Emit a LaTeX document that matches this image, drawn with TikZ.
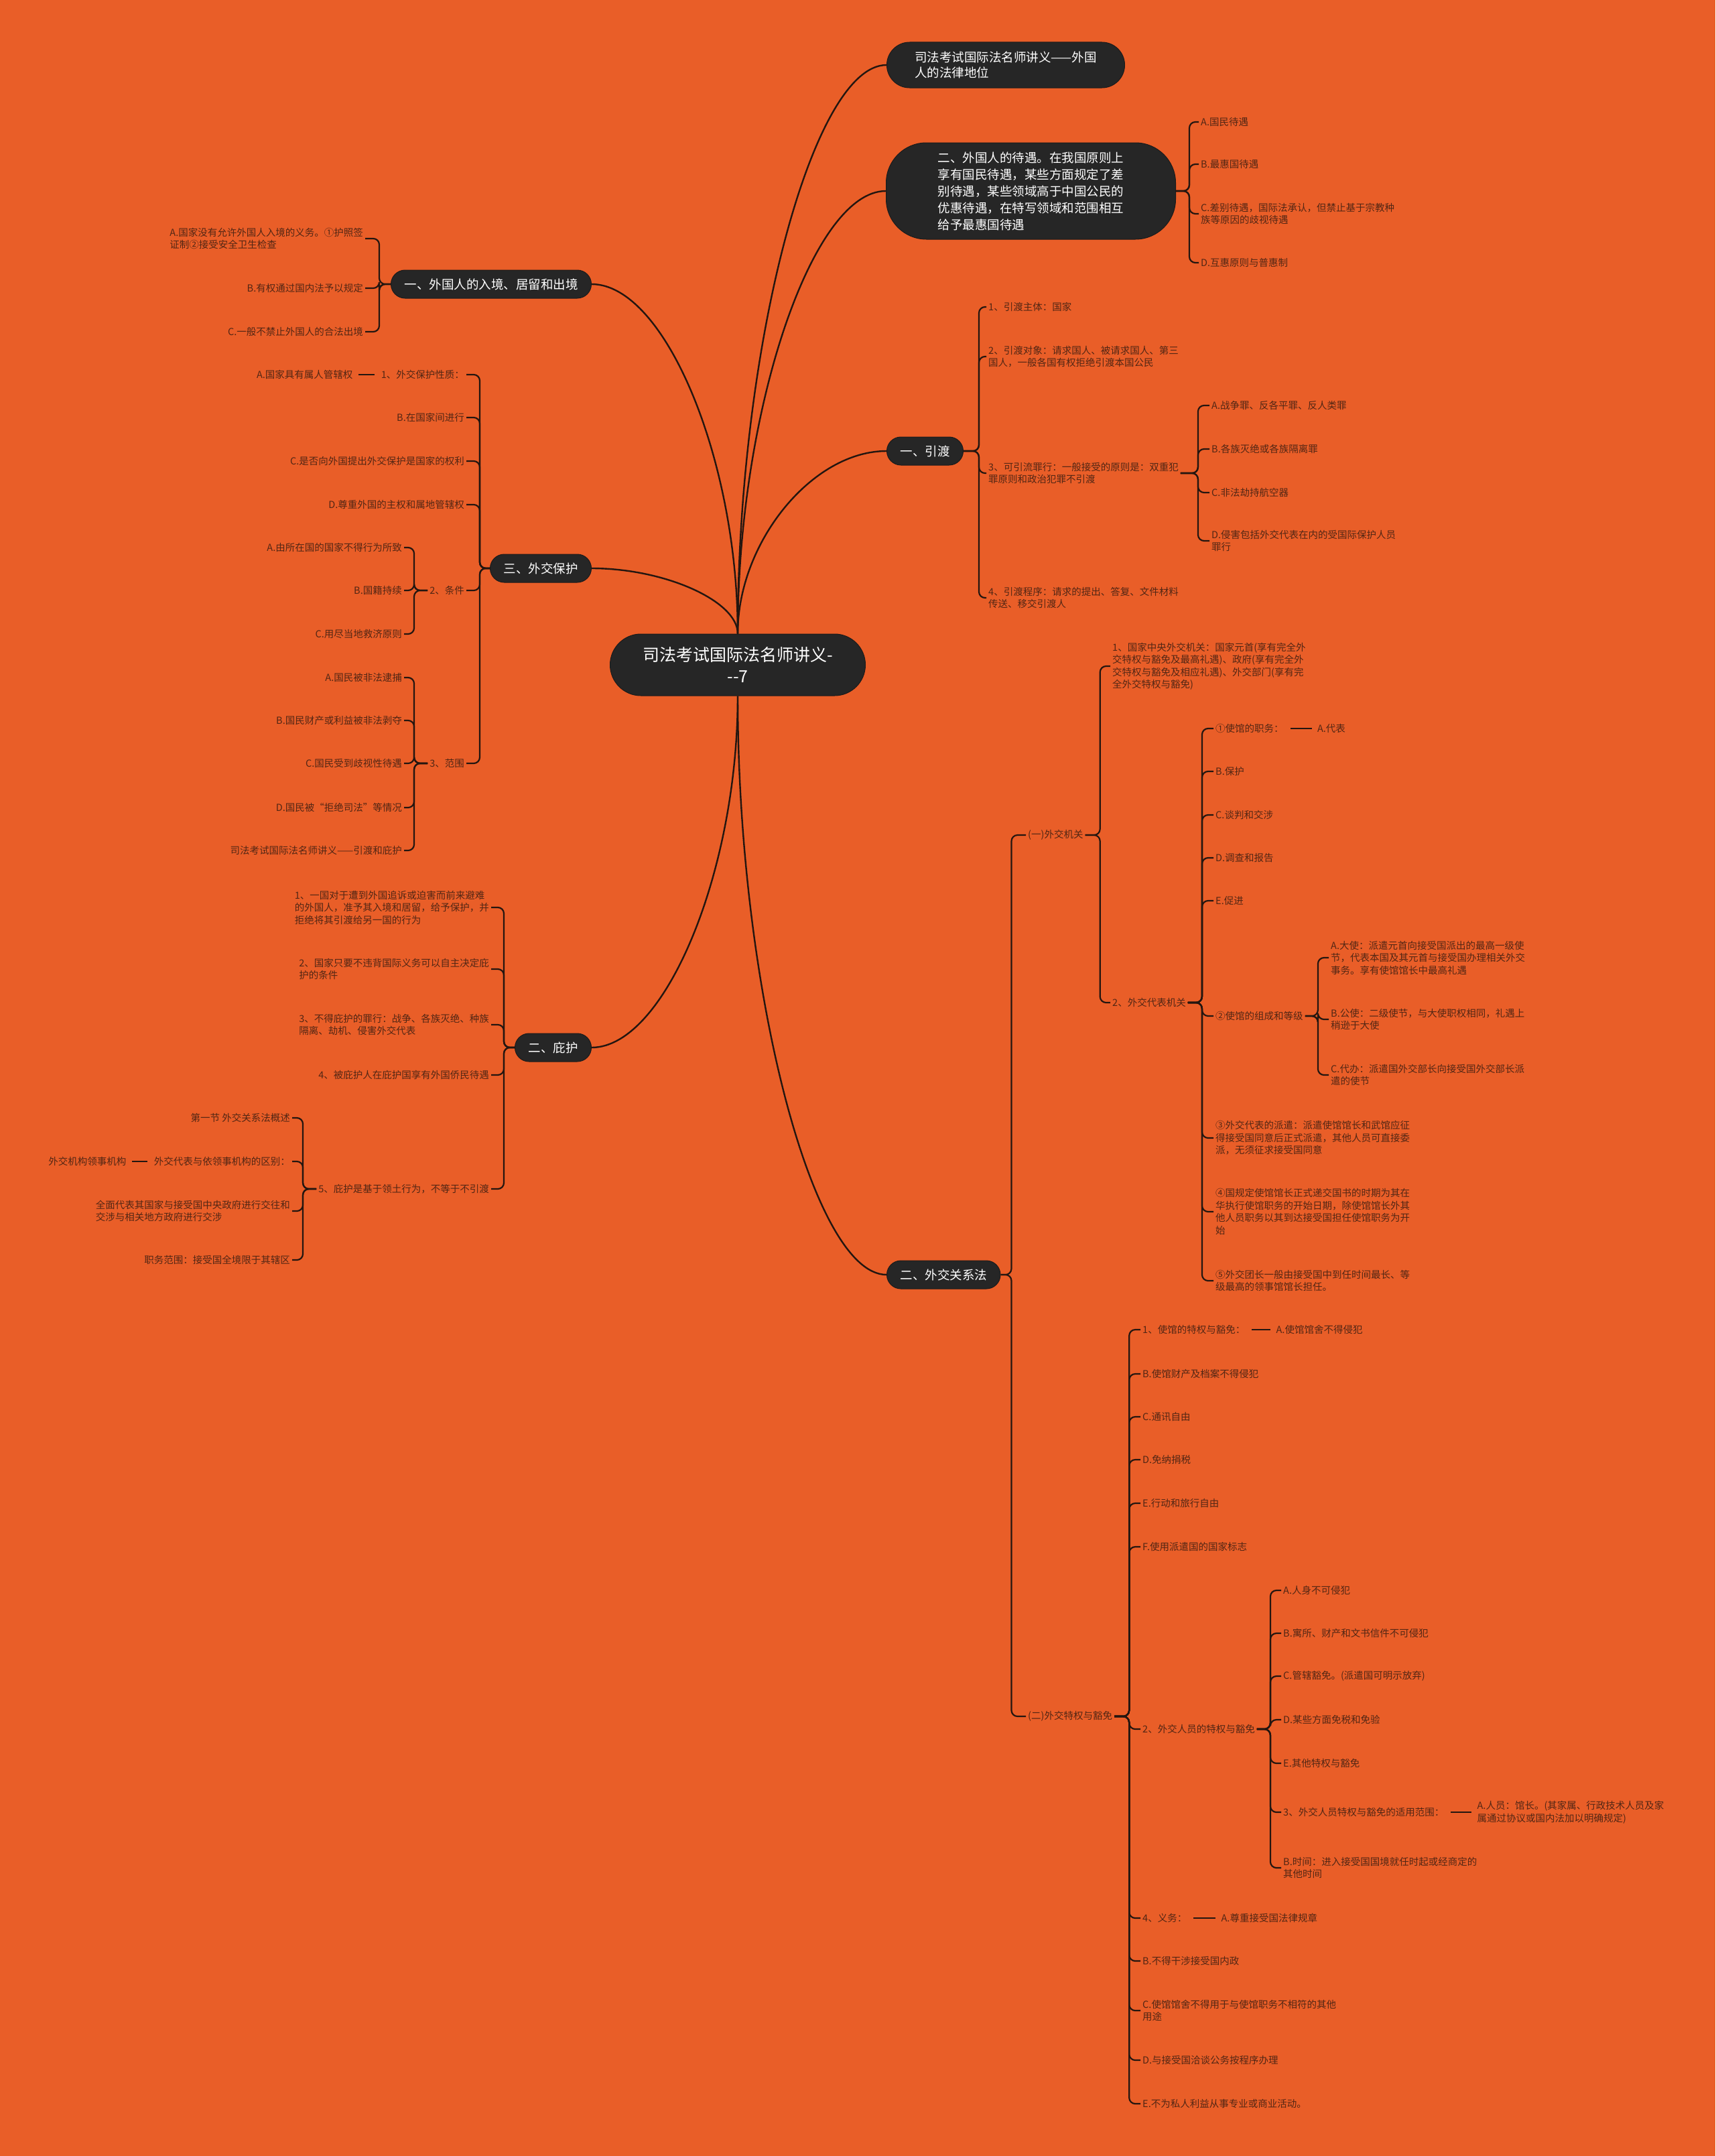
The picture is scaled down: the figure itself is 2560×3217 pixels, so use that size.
\documentclass[tikz,border=0pt]{standalone}
\usepackage{fontspec}
\setmainfont{Noto Sans CJK SC}
\usetikzlibrary{calc,positioning}

\definecolor{bgorange}{RGB}{233,94,40}
\definecolor{topicfill}{RGB}{38,38,38}
\definecolor{linkcol}{RGB}{36,22,16}
\definecolor{leaftext}{RGB}{82,38,20}

\begin{document}
\begin{tikzpicture}[x=1pt, y=-1pt,
	topic/.style={fill=topicfill, draw=topicfill!70!black, line width=1pt, text=white, font=\fontsize{18.5}{24}\selectfont, inner xsep=20pt, minimum height=42pt, rounded corners=21pt, align=left},
	leaf/.style={text=leaftext, font=\fontsize{14.5}{18.5}\selectfont, inner xsep=3pt, inner ysep=2pt, align=left},
	link/.style={draw=linkcol, line width=2.2pt, rounded corners=9pt},
	stub/.style={link, shorten <=7pt, shorten >=5pt},
	trunk/.style={draw=linkcol, line width=2.4pt, to path={.. controls ($(\tikztostart)!.5!(\tikztostart|-\tikztotarget)$) and ($(\tikztotarget)!.5!(\tikztostart|-\tikztotarget)$) .. (\tikztotarget)}}]
	\fill[bgorange] (0,0) rectangle (2560,3217);
	\useasboundingbox (0,0) rectangle (2560,3217);

	% centre and main topics
	\node[topic, minimum width=381pt, minimum height=92pt, rounded corners=46pt, align=center, font=\fontsize{25}{32}\selectfont] (root) at (1101,992) {司法考试国际法名师讲义-\\-{}-7};
	\node[topic, anchor=west, minimum width=355pt, minimum height=68pt, rounded corners=34pt, font=\fontsize{18.5}{23}\selectfont] (law) at (1323,97) {司法考试国际法名师讲义——外国\\人的法律地位};
	\node[topic, anchor=west, minimum width=432pt, minimum height=144pt, rounded corners=60pt, font=\fontsize{18.5}{25}\selectfont] (treat) at (1322,285) {二、外国人的待遇。在我国原则上\\享有国民待遇，某些方面规定了差\\别待遇，某些领域高于中国公民的\\优惠待遇，在特写领域和范围相互\\给予最惠国待遇};
	\node[topic, anchor=west] (extra) at (1323,673) {一、引渡};
	\node[topic, anchor=west] (dipl) at (1323,1902) {二、外交关系法};
	\node[topic, anchor=east] (entry) at (883,424) {一、外国人的入境、居留和出境};
	\node[topic, anchor=east] (prot) at (883,848) {三、外交保护};
	\node[topic, anchor=east] (asyl) at (883,1563) {二、庇护};
	\foreach \b in {law,treat,extra} \draw[trunk] (root.north) to (\b.west);
	\foreach \b in {entry,prot} \draw[trunk] (root.north) to (\b.east);
	\draw[trunk] (root.south) to (dipl.west);
	\draw[trunk] (root.south) to (asyl.east);

	% treatment of foreigners
	\foreach \n/\y/\txt in {a/182/{A.国民待遇}, b/245/{B.最惠国待遇}, c/319/{C.差别待遇，国际法承认，但禁止基于宗教种\\族等原因的歧视待遇}, d/392/{D.互惠原则与普惠制}} {
		\node[leaf, anchor=west] (treat-\n) at (1789,\y) {\txt};
		\draw[link] (treat.east) -- ++(20,0) |- (treat-\n.west);
	}

	% extradition
	\foreach \n/\y/\txt in {1/458/{1、引渡主体：国家}, 2/532/{2、引渡对象：请求国人、被请求国人、第三\\国人，一般各国有权拒绝引渡本国公民}, 3/706/{3、可引流罪行：一般接受的原则是：双重犯\\罪原则和政治犯罪不引渡}, 4/892/{4、引渡程序：请求的提出、答复、文件材料\\传送、移交引渡人}} {
		\node[leaf, anchor=west] (extra-\n) at (1472,\y) {\txt};
		\draw[link] (extra.east) -- ++(23,0) |- (extra-\n.west);
	}
	\foreach \n/\y/\txt in {a/605/{A.战争罪、反各平罪、反人类罪}, b/670/{B.各族灭绝或各族隔离罪}, c/735/{C.非法劫持航空器}, d/807/{D.侵害包括外交代表在内的受国际保护人员\\罪行}} {
		\node[leaf, anchor=west] (crime-\n) at (1805,\y) {\txt};
		\draw[link] (extra-3.east) -- ++(26,0) |- (crime-\n.west);
	}

	% diplomatic law
	\node[leaf, anchor=west] (organ) at (1531,1246) {(一)外交机关};
	\node[leaf, anchor=west] (immun) at (1531,2561) {(二)外交特权与豁免};
	\foreach \b in {organ,immun} \draw[link] (dipl.east) -- ++(16,0) |- (\b.west);

	\node[leaf, anchor=west] (organ-1) at (1657,994) {1、国家中央外交机关：国家元首(享有完全外\\交特权与豁免及最高礼遇)、政府(享有完全外\\交特权与豁免及相应礼遇)、外交部门(享有完\\全外交特权与豁免)};
	\node[leaf, anchor=west] (organ-2) at (1657,1496) {2、外交代表机关};
	\foreach \b in {organ-1,organ-2} \draw[link] (organ.east) -- ++(22,0) |- (\b.west);

	\foreach \n/\y/\txt in {1/1087/{①使馆的职务：}, 2/1151/{B.保护}, 3/1216/{C.谈判和交涉}, 4/1280/{D.调查和报告}, 5/1344/{E.促进}, 6/1516/{②使馆的组成和等级}, 7/1698/{③外交代表的派遣：派遣使馆馆长和武馆应征\\得接受国同意后正式派遣，其他人员可直接委\\派，无须征求接受国同意}, 8/1808/{④国规定使馆馆长正式递交国书的时期为其在\\华执行使馆职务的开始日期，除使馆馆长外其\\他人员职务以其到达接受国担任使馆职务为开\\始}, 9/1911/{⑤外交团长一般由接受国中到任时间最长、等\\级最高的领事馆馆长担任。}} {
		\node[leaf, anchor=west] (mission-\n) at (1811,\y) {\txt};
		\draw[link] (organ-2.east) -- ++(21,0) |- (mission-\n.west);
	}
	\node[leaf, right=44pt of mission-1] (mission-1a) {A.代表};
	\draw[stub] (mission-1.east) -- (mission-1a.west);

	\foreach \n/\y/\txt in {a/1429/{A.大使：派遣元首向接受国派出的最高一级使\\节，代表本国及其元首与接受国办理相关外交\\事务。享有使馆馆长中最高礼遇}, b/1521/{B.公使：二级使节，与大使职权相同，礼遇上\\稍逊于大使}, c/1604/{C.代办：派遣国外交部长向接受国外交部长派\\遣的使节}} {
		\node[leaf, anchor=west] (rank-\n) at (1983,\y) {\txt};
		\draw[link] (mission-6.east) -- ++(19,0) |- (rank-\n.west);
	}

	\foreach \n/\y/\txt in {1/1984/{1、使馆的特权与豁免：}, 2/2050/{B.使馆财产及档案不得侵犯}, 3/2114/{C.通讯自由}, 4/2178/{D.免纳捐税}, 5/2243/{E.行动和旅行自由}, 6/2308/{F.使用派遣国的国家标志}, 7/2580/{2、外交人员的特权与豁免}, 8/2862/{4、义务：}, 9/2926/{B.不得干涉接受国内政}, 10/3000/{C.使馆馆舍不得用于与使馆职务不相符的其他\\用途}, 11/3074/{D.与接受国洽谈公务按程序办理}, 12/3139/{E.不为私人利益从事专业或商业活动。}} {
		\node[leaf, anchor=west] (immun-\n) at (1702,\y) {\txt};
		\draw[link] (immun.east) -- ++(22,0) |- (immun-\n.west);
	}
	\node[leaf, right=40pt of immun-1] (immun-1a) {A.使馆馆舍不得侵犯};
	\draw[stub] (immun-1.east) -- (immun-1a.west);
	\node[leaf, right=45pt of immun-8] (immun-8a) {A.尊重接受国法律规章};
	\draw[stub] (immun-8.east) -- (immun-8a.west);

	\foreach \n/\y/\txt in {1/2373/{A.人身不可侵犯}, 2/2437/{B.寓所、财产和文书信件不可侵犯}, 3/2501/{C.管辖豁免。(派遣国可明示放弃)}, 4/2566/{D.某些方面免税和免验}, 5/2631/{E.其他特权与豁免}, 6/2704/{3、外交人员特权与豁免的适用范围：}, 7/2787/{B.时间：进入接受国国境就任时起或经商定的\\其他时间}} {
		\node[leaf, anchor=west] (staff-\n) at (1912,\y) {\txt};
		\draw[link] (immun-7.east) -- ++(20,0) |- (staff-\n.west);
	}
	\node[leaf, right=43pt of staff-6] (staff-6a) {A.人员：馆长。(其家属、行政技术人员及家\\属通过协议或国内法加以明确规定)};
	\draw[stub] (staff-6.east) -- (staff-6a.west);

	% entry, residence and exit
	\foreach \n/\y/\txt in {a/356/{A.国家没有允许外国人入境的义务。①护照签\\证制②接受安全卫生检查}, b/430/{B.有权通过国内法予以规定}, c/495/{C.一般不禁止外国人的合法出境}} {
		\node[leaf, anchor=east] (entry-\n) at (545,\y) {\txt};
		\draw[link] (entry.west) -- ++(-17,0) |- (entry-\n.east);
	}

	% diplomatic protection
	\foreach \n/\y/\txt in {1/559/{1、外交保护性质：}, 2/623/{B.在国家间进行}, 3/688/{C.是否向外国提出外交保护是国家的权利}, 4/753/{D.尊重外国的主权和属地管辖权}, 5/881/{2、条件}, 6/1139/{3、范围}} {
		\node[leaf, anchor=east] (prot-\n) at (696,\y) {\txt};
		\draw[link] (prot.west) -- ++(-15,0) |- (prot-\n.east);
	}
	\node[leaf, left=36pt of prot-1] (prot-1a) {A.国家具有属人管辖权};
	\draw[stub] (prot-1.west) -- (prot-1a.east);
	\foreach \n/\y/\txt in {a/817/{A.由所在国的国家不得行为所致}, b/881/{B.国籍持续}, c/946/{C.用尽当地救济原则}} {
		\node[leaf, anchor=east] (cond-\n) at (603,\y) {\txt};
		\draw[link] (prot-5.west) -- ++(-20,0) |- (cond-\n.east);
	}
	\foreach \n/\y/\txt in {a/1011/{A.国民被非法逮捕}, b/1075/{B.国民财产或利益被非法剥夺}, c/1139/{C.国民受到歧视性待遇}, d/1205/{D.国民被“拒绝司法”等情况}, e/1269/{司法考试国际法名师讲义——引渡和庇护}} {
		\node[leaf, anchor=east] (scope-\n) at (603,\y) {\txt};
		\draw[link] (prot-6.west) -- ++(-20,0) |- (scope-\n.east);
	}

	% asylum
	\foreach \n/\y/\txt in {1/1354/{1、一国对于遭到外国追诉或迫害而前来避难\\的外国人，准予其入境和居留，给予保护，并\\拒绝将其引渡给另一国的行为}, 2/1446/{2、国家只要不违背国际义务可以自主决定庇\\护的条件}, 3/1529/{3、不得庇护的罪行：战争、各族灭绝、种族\\隔离、劫机、侵害外交代表}, 4/1604/{4、被庇护人在庇护国享有外国侨民待遇}, 5/1774/{5、庇护是基于领土行为，不等于不引渡}} {
		\node[leaf, anchor=east] (asyl-\n) at (733,\y) {\txt};
		\draw[link] (asyl.west) -- ++(-16,0) |- (asyl-\n.east);
	}
	\foreach \n/\y/\txt in {a/1668/{第一节 外交关系法概述}, b/1733/{外交代表与依领事机构的区别：}, c/1807/{全面代表其国家与接受国中央政府进行交往和\\交涉与相关地方政府进行交涉}, d/1880/{职务范围：接受国全境限于其辖区}} {
		\node[leaf, anchor=east] (sect-\n) at (436,\y) {\txt};
		\draw[link] (asyl-5.west) -- ++(-20,0) |- (sect-\n.east);
	}
	\node[leaf, left=35pt of sect-b] (sect-ba) {外交机构领事机构};
	\draw[stub] (sect-b.west) -- (sect-ba.east);
\end{tikzpicture}
\end{document}
